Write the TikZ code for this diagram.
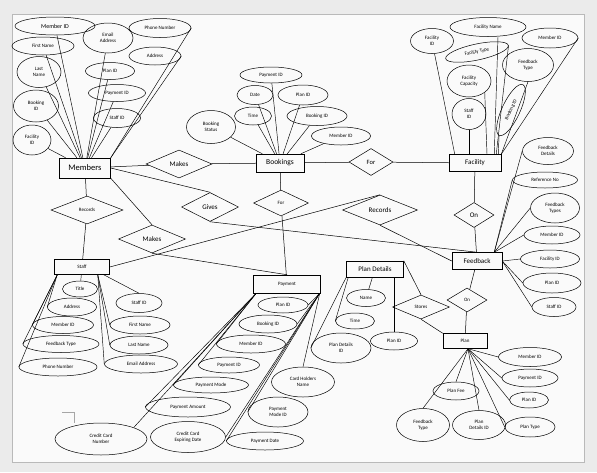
\documentclass[tikz,border=0pt]{standalone}
\usepackage{fontspec}
\setmainfont{Carlito}
\usetikzlibrary{shapes.geometric}

\tikzset{
  entity/.style={rectangle, draw, inner sep=1pt, minimum height=17pt},
  attr/.style={ellipse, draw, inner sep=0pt, align=center, font=\fontsize{5}{5.8}\selectfont},
  rel/.style={diamond, draw, inner sep=0pt, font=\fontsize{7}{8}\selectfont},
  small/.style={font=\fontsize{5}{6}\selectfont},
  link/.style={line width=0.45pt}
}

\begin{document}
\begin{tikzpicture}[x=1pt, y=-1pt, line width=0.5pt]
  \useasboundingbox (0,0) rectangle (597,472);
  \fill[gray!16] (0,0) rectangle (597,472);
  \filldraw[fill=gray!4, draw=gray!55] (12,14) rectangle (584,462);
  \draw[gray!70] (62,412) -- (74,412) -- (74,423);

  % entities
  \node[entity, minimum width=51pt, minimum height=20pt, font=\fontsize{8.5}{9}\selectfont] (members) at (85,168) {Members};
  \node[entity, minimum width=48pt, minimum height=18pt, font=\fontsize{7.5}{8}\selectfont] (bookings) at (280,163) {Bookings};
  \node[entity, minimum width=52pt, font=\fontsize{7}{8}\selectfont] (facility) at (475,163) {Facility};
  \node[entity, minimum width=50pt, font=\fontsize{7}{8}\selectfont] (feedback) at (477,261) {Feedback};
  \node[entity, minimum width=55pt, minimum height=15pt, small] (staff) at (82,267) {Staff};
  \node[entity, minimum width=67pt, minimum height=18pt, small] (payment) at (287,284) {Payment};
  \node[entity, minimum width=57pt, minimum height=16pt, font=\fontsize{7}{8}\selectfont] (planDetails) at (375,269) {Plan Details};
  \node[entity, minimum width=44pt, minimum height=15pt, small] (plan) at (465,341) {Plan};

  % relationships
  \node[rel, minimum width=66pt, minimum height=28pt] (makesTop) at (179,164) {Makes};
  \node[rel, minimum width=44pt, minimum height=27pt, font=\fontsize{6.5}{7}\selectfont] (forTop) at (371,162) {For};
  \node[rel, minimum width=40pt, minimum height=25pt] (onTop) at (474,215) {On};
  \node[rel, minimum width=72pt, minimum height=28pt, small] (recordsLeft) at (87,210) {Records};
  \node[rel, minimum width=57pt, minimum height=29pt] (gives) at (210,207) {Gives};
  \node[rel, minimum width=67pt, minimum height=28pt] (makesLow) at (152,239) {Makes};
  \node[rel, minimum width=55pt, minimum height=26pt, small] (forLow) at (281,203) {For};
  \node[rel, minimum width=75pt, minimum height=30pt] (recordsRight) at (380,210) {Records};
  \node[rel, minimum width=57pt, minimum height=24pt, small] (stores) at (421,307) {Stores};
  \node[rel, minimum width=40pt, minimum height=24pt, small] (onLow) at (467,300) {On};

  % members attributes
  \node[attr, minimum width=80pt, minimum height=18pt, font=\fontsize{6}{7}\selectfont] (mMemberId) at (55,26) {Member ID};
  \node[attr, minimum width=62pt, minimum height=18pt] (mFirstName) at (43,46) {First Name};
  \node[attr, minimum width=44pt, minimum height=31pt] (mLastName) at (39,72) {Last\\Name};
  \node[attr, minimum width=45pt, minimum height=32pt] (mBookingId) at (36,106) {Booking\\ID};
  \node[attr, minimum width=38pt, minimum height=30pt] (mFacilityId) at (32,140) {Facility\\ID};
  \node[attr, minimum width=50pt, minimum height=30pt] (mEmail) at (108,38) {Email\\Address};
  \node[attr, minimum width=62pt, minimum height=19pt] (mPhone) at (160,28) {Phone Number};
  \node[attr, minimum width=52pt, minimum height=18pt] (mAddress) at (155,56) {Address};
  \node[attr, minimum width=49pt, minimum height=17pt] (mPlanId) at (110,71) {Plan ID};
  \node[attr, minimum width=57pt, minimum height=17pt] (mPaymentId) at (117,93) {Payment ID};
  \node[attr, minimum width=47pt, minimum height=19pt] (mStaffId) at (117,118) {Staff ID};

  % bookings attributes
  \node[attr, minimum width=62pt, minimum height=16pt] (bPaymentId) at (271,75) {Payment ID};
  \node[attr, minimum width=36pt, minimum height=19pt] (bDate) at (255,95) {Date};
  \node[attr, minimum width=50pt, minimum height=20pt] (bPlanId) at (303,95) {Plan ID};
  \node[attr, minimum width=37pt, minimum height=18pt] (bTime) at (253,116) {Time};
  \node[attr, minimum width=60pt, minimum height=19pt] (bBookingId) at (317,116) {Booking ID};
  \node[attr, minimum width=49pt, minimum height=33pt] (bStatus) at (211,127) {Booking\\Status};
  \node[attr, minimum width=59pt, minimum height=18pt] (bMemberId) at (341,136) {Member ID};

  % facility attributes
  \node[attr, minimum width=43pt, minimum height=25pt] (fFacilityId) at (432,41) {Facility\\ID};
  \node[attr, minimum width=76pt, minimum height=19pt] (fName) at (488,27) {Facility Name};
  \node[attr, minimum width=56pt, minimum height=20pt] (fMemberId) at (550,38) {Member ID};
  \node[attr, minimum width=64pt, minimum height=16pt, rotate=12] (fType) at (477,52) {Facility Type};
  \node[attr, minimum width=44pt, minimum height=32pt] (fCapacity) at (469,81) {Facility\\Capacity};
  \node[attr, minimum width=51pt, minimum height=33pt] (fFeedbackType) at (528,65) {Feedback\\Type};
  \node[attr, minimum width=34pt, minimum height=31pt] (fStaffId) at (469,114) {Staff\\ID};
  \node[attr, minimum width=56pt, minimum height=18pt, rotate=65] (fBookingId) at (511,110) {Booking ID};

  % feedback attributes
  \node[attr, minimum width=51pt, minimum height=27pt] (fbDetails) at (548,151) {Feedback\\Details};
  \node[attr, minimum width=65pt, minimum height=16pt] (fbReference) at (545,180) {Reference No};
  \node[attr, minimum width=49pt, minimum height=30pt] (fbTypes) at (555,208) {Feedback\\Types};
  \node[attr, minimum width=56pt, minimum height=18pt] (fbMemberId) at (552,235) {Member ID};
  \node[attr, minimum width=59pt, minimum height=18pt] (fbFacilityId) at (550,259) {Facility ID};
  \node[attr, minimum width=58pt, minimum height=20pt] (fbPlanId) at (552,283) {Plan ID};
  \node[attr, minimum width=44pt, minimum height=19pt] (fbStaffId) at (554,307) {Staff ID};

  % staff attributes
  \node[attr, minimum width=35pt, minimum height=16pt] (sTitle) at (80,289) {Title};
  \node[attr, minimum width=49pt, minimum height=18pt] (sAddress) at (72,307) {Address};
  \node[attr, minimum width=61pt, minimum height=17pt] (sMemberId) at (63,325) {Member ID};
  \node[attr, minimum width=76pt, minimum height=17pt] (sFeedbackType) at (61,344) {Feedback Type};
  \node[attr, minimum width=78pt, minimum height=18pt] (sPhone) at (58,367) {Phone Number};
  \node[attr, minimum width=46pt, minimum height=19pt] (sStaffId) at (139,303) {Staff ID};
  \node[attr, minimum width=60pt, minimum height=18pt] (sFirstName) at (140,325) {First Name};
  \node[attr, minimum width=58pt, minimum height=18pt] (sLastName) at (139,345) {Last Name};
  \node[attr, minimum width=73pt, minimum height=18pt] (sEmail) at (141,364) {Email Address};

  % payment attributes
  \node[attr, minimum width=50pt, minimum height=16pt] (pPlanId) at (283,305) {Plan ID};
  \node[attr, minimum width=58pt, minimum height=18pt] (pBookingId) at (268,324) {Booking ID};
  \node[attr, minimum width=69pt, minimum height=18pt] (pMemberId) at (251,344) {Member ID};
  \node[attr, minimum width=61pt, minimum height=16pt] (pPaymentId) at (229,365) {Payment ID};
  \node[attr, minimum width=75pt, minimum height=16pt] (pMode) at (211,385) {Payment Mode};
  \node[attr, minimum width=85pt, minimum height=20pt] (pAmount) at (188,407) {Payment Amount};
  \node[attr, minimum width=75pt, minimum height=31pt] (pExpiry) at (188,437) {Credit Card\\Expiring Date};
  \node[attr, minimum width=63pt, minimum height=30pt] (pHolder) at (303,382) {Card Holders\\Name};
  \node[attr, minimum width=60pt, minimum height=30pt] (pModeId) at (278,412) {Payment\\Mode ID};
  \node[attr, minimum width=77pt, minimum height=18pt] (pDate) at (265,441) {Payment Date};
  \node[attr, minimum width=92pt, minimum height=32pt] (pCardNo) at (101,439) {Credit Card\\Number};

  % plan details attributes
  \node[attr, minimum width=39pt, minimum height=17pt] (pdName) at (366,298) {Name};
  \node[attr, minimum width=39pt, minimum height=16pt] (pdTime) at (355,321) {Time};
  \node[attr, minimum width=60pt, minimum height=30pt] (pdId) at (341,348) {Plan Details\\ID};
  \node[attr, minimum width=47pt, minimum height=18pt] (pdPlanId) at (394,341) {Plan ID};

  % plan attributes
  \node[attr, minimum width=63pt, minimum height=19pt] (plMemberId) at (530,357) {Member ID};
  \node[attr, minimum width=56pt, minimum height=18pt] (plPaymentId) at (530,378) {Payment ID};
  \node[attr, minimum width=39pt, minimum height=16pt] (plPlanId) at (529,400) {Plan ID};
  \node[attr, minimum width=50pt, minimum height=20pt] (plType) at (530,427) {Plan Type};
  \node[attr, minimum width=46pt, minimum height=18pt] (plFee) at (456,391) {Plan Fee};
  \node[attr, minimum width=53pt, minimum height=33pt] (plFeedbackType) at (423,425) {Feedback\\Type};
  \node[attr, minimum width=53pt, minimum height=29pt] (plDetailsId) at (479,425) {Plan\\Details ID};

  % relationship links
  \draw (members) -- (makesTop) -- (bookings);
  \draw (bookings) -- (forTop) -- (facility);
  \draw (facility) -- (onTop) -- (feedback);
  \draw (members) -- (recordsLeft) -- (staff);
  \draw (members.east) -- (gives.north);
  \draw (gives.south) -- (feedback.north);
  \draw (members.south east) -- (makesLow.north);
  \draw (makesLow.south) -- (payment.north);
  \draw (staff.east) -- (recordsRight.north);
  \draw (recordsRight.south) -- (feedback.west);
  \draw (bookings) -- (forLow) -- (payment);
  \draw (planDetails.north east) -- (stores.north);
  \draw (stores.south) -- (plan.north west);
  \draw (feedback) -- (onLow) -- (plan);

  % attribute links
  \begin{scope}[link]
    \foreach \a in {mMemberId, mFirstName, mLastName, mBookingId, mFacilityId, mEmail, mPlanId, mPaymentId, mStaffId}
      \draw (\a) -- (members);
    \draw (mPhone.east) -- (members.north east);
    \draw (mAddress.east) -- (members.north east);

    \foreach \a in {bPaymentId, bDate, bPlanId, bTime, bBookingId, bStatus, bMemberId}
      \draw (\a) -- (bookings);

    \draw (fFacilityId) -- ([xshift=6pt]facility.north west);
    \draw ([xshift=10pt]fName.south) -- ([xshift=-7pt]facility.north east);
    \draw (fType.east) -- ([xshift=-5pt]facility.north east);
    \draw (fCapacity.south east) -- ([xshift=12pt]facility.north);
    \draw (fStaffId.south) -- (fStaffId.south |- facility.north);
    \draw (fBookingId.west) -- ([xshift=-3pt]facility.north east);
    \draw (fMemberId.east) -- (facility.north east);
    \draw (fFeedbackType.south) -- (facility.north east);

    \foreach \a in {fbDetails, fbReference, fbTypes, fbMemberId}
      \draw (\a.west) -- ([xshift=-8pt]feedback.north east);
    \foreach \a in {fbFacilityId, fbPlanId, fbStaffId}
      \draw (\a.west) -- (feedback.east);

    \foreach \a in {sPhone, sFeedbackType, sMemberId, sAddress}
      \draw (\a.west) -- ([xshift=3pt]staff.south west);
    \draw (sTitle) -- (staff);
    \draw (sStaffId.north) -- ([xshift=-6pt]staff.south east);
    \foreach \a in {sFirstName, sLastName, sEmail}
      \draw (\a.west) -- ([xshift=-12pt]staff.south east);

    \foreach \a in {pCardNo.north east, pAmount.west, pMode.west, pPaymentId.west, pMemberId.west}
      \draw (\a) -- ([xshift=3pt]payment.south west);
    \foreach \a in {pPlanId.east, pBookingId.east, pHolder.north, pModeId.west, pDate.west, pExpiry.east}
      \draw (\a) -- ([xshift=-1pt]payment.south east);

    \draw (pdName) -- (planDetails);
    \draw (pdPlanId.north) -- (pdPlanId.north |- planDetails.south);
    \draw (pdTime.west) -- ([xshift=2pt]planDetails.south west);
    \draw (pdId.west) -- (planDetails.south west);

    \foreach \a in {plMemberId.west, plPaymentId.west, plPlanId.west, plType.west, plDetailsId.north, plFee.north, plFeedbackType.north}
      \draw (\a) -- ([xshift=3pt]plan.south);
  \end{scope}
\end{tikzpicture}
\end{document}
